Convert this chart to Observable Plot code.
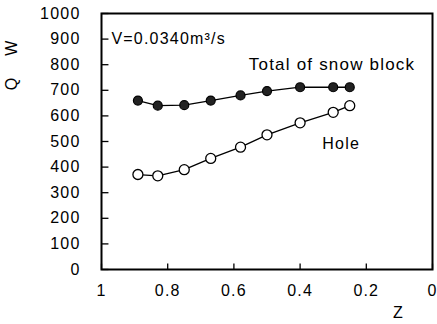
<!DOCTYPE html>
<html>
<head>
<meta charset="utf-8">
<script src="https://cdn.jsdelivr.net/npm/d3@7"></script>
<script src="https://cdn.jsdelivr.net/npm/@observablehq/plot@0.6"></script>
<style>
  html, body { margin: 0; padding: 0; background: #fff; }
  svg text { letter-spacing: 1.2px; }
</style>
</head>
<body>
<div id="chart"></div>
<script>
const zValues = [0.89, 0.83, 0.75, 0.67, 0.58, 0.5, 0.4, 0.3, 0.25];
const totalValues = [660, 640, 642, 660, 680, 697, 712, 712, 712];
const holeValues = [371, 366, 390, 434, 478, 526, 573, 614, 640];
const yTicks = [0, 100, 200, 300, 400, 500, 600, 700, 800, 900, 1000];
const xTicks = [1, 0.8, 0.6, 0.4, 0.2, 0];
const xTickLabels = ["1", "0.8", "0.6", "0.4", "0.2", "0"];

const total = zValues.map((z, i) => ({z, q: totalValues[i]}));
const hole = zValues.map((z, i) => ({z, q: holeValues[i]}));
const yTickRows = yTicks.map(v => ({v}));
const xTickRows = xTicks.map(v => ({v}));

const W = 437, H = 324, ML = 101, MR = 5, MT = 13, MB = 55;

const chart = Plot.plot({
  width: W,
  height: H,
  marginLeft: ML,
  marginRight: MR,
  marginTop: MT,
  marginBottom: MB,
  style: {fontFamily: "'Liberation Sans', Arial, sans-serif", fontSize: "16px", color: "#000", background: "#fff"},
  x: {domain: [1, 0]},
  y: {domain: [0, 1000]},
  marks: [
    Plot.link(yTickRows, {x1: () => 1, x2: () => 0.979, y1: "v", y2: "v", stroke: "#000", strokeWidth: 1.3}),
    Plot.link(xTickRows, {x1: "v", x2: "v", y1: () => 0, y2: () => 23, stroke: "#000", strokeWidth: 1.3}),
    Plot.axisY(yTicks, {tickSize: 0, tickPadding: 21, fontSize: 16, label: null, tickFormat: d => String(d)}),
    Plot.axisX(xTicks, {tickSize: 0, tickPadding: 15, fontSize: 16, label: null, tickFormat: (d, i) => xTickLabels[i]}),
    Plot.line(total, {x: "z", y: "q", stroke: "#000", strokeWidth: 1.3}),
    Plot.line(hole, {x: "z", y: "q", stroke: "#000", strokeWidth: 1.3}),
    Plot.dot(total, {x: "z", y: "q", r: 4.5, fill: "#222", stroke: "#000", strokeWidth: 1.2}),
    Plot.dot(hole, {x: "z", y: "q", r: 5, fill: "#fff", stroke: "#000", strokeWidth: 1.3}),
    Plot.text(["V=0.0340m³/s"], {x: 0.97, y: 900, text: d => d, textAnchor: "start", fontSize: 16}),
    Plot.text(["Total of snow block"], {x: 0.555, y: 800, text: d => d, textAnchor: "start", fontSize: 17}),
    Plot.text(["Hole"], {x: 0.333, y: 492, text: d => d, textAnchor: "start", fontSize: 16}),
    Plot.text(["Z"], {x: 0.103, y: -170, text: d => d, fontSize: 16, clip: false}),
    Plot.text(["W"], {x: 1.27, y: 867, text: d => d, rotate: -90, fontSize: 16, clip: false}),
    Plot.text(["Q"], {x: 1.27, y: 727, text: d => d, rotate: -90, fontSize: 16, clip: false}),
    Plot.frame({stroke: "#000", strokeWidth: 2})
  ]
});
document.getElementById("chart").appendChild(chart);
</script>
</body>
</html>
